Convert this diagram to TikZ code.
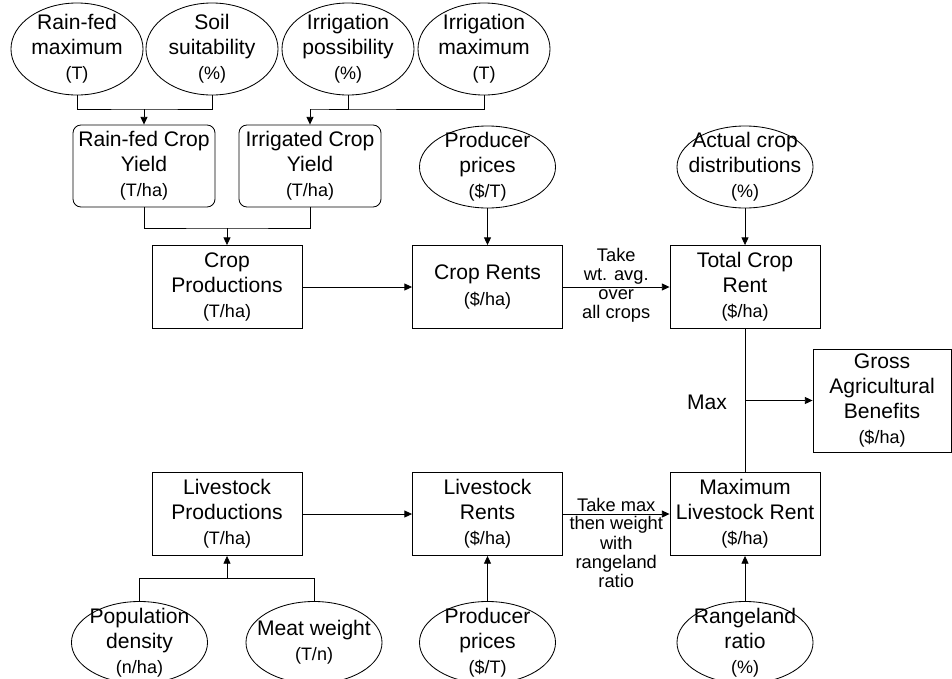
\documentclass[tikz,border=0pt]{standalone}
\usepackage{fontspec}
\setmainfont{Liberation Sans}
\usepackage{tikz}
\usetikzlibrary{shapes.geometric, arrows.meta}
\newcommand{\un}[1]{{\fontsize{12.8}{15}\selectfont #1}}

\begin{document}
\begin{tikzpicture}[
  x=0.025cm, y=-0.025cm,
  line width=0.6pt,
  proc/.style={draw, minimum width=3.75cm, minimum height=2.075cm,
               align=center, inner xsep=2pt, font=\fontsize{15}{17.8}\selectfont},
  yld/.style={proc, rounded corners=0.2cm, minimum width=3.55cm, minimum height=2.05cm},
  inp/.style={draw, ellipse, minimum width=3.4cm, minimum height=2.05cm,
              inner sep=-12pt, align=center, font=\fontsize{15}{17.8}\selectfont},
  tinp/.style={inp, minimum width=3.3cm, minimum height=2.3cm},
  ann/.style={align=center, inner sep=1.5pt, font=\fontsize{13}{13.7}\selectfont},
  arr/.style={-{Triangle[length=5.5pt, width=5pt]}},
]
  \clip (0,0) rectangle (952,678);

  % Inputs for crop yields
  \node[tinp] (rfm) at (77,49)  {Rain-fed\\maximum\\\un{(T)}};
  \node[tinp] (soil) at (212,49) {Soil\\suitability\\\un{(\%)}};
  \node[tinp] (irp) at (348,49) {Irrigation\\possibility\\\un{(\%)}};
  \node[tinp] (irm) at (484,49) {Irrigation\\maximum\\\un{(T)}};

  % Yields
  \node[yld] (rfy) at (144,166) {Rain-fed Crop\\Yield\\\un{(T/ha)}};
  \node[yld] (iry) at (310,166) {Irrigated Crop\\Yield\\\un{(T/ha)}};

  % Crop chain
  \node[inp] (pp1) at (487.5,167) {Producer\\prices\\\un{(\$/T)}};
  \node[inp] (acd) at (745,167) {Actual crop\\distributions\\\un{(\%)}};
  \node[proc] (cp) at (227,287) {Crop\\Productions\\\un{(T/ha)}};
  \node[proc] (cr) at (487.5,287) {Crop Rents\\\un{(\$/ha)}};
  \node[proc] (tcr) at (745,287) {Total Crop\\Rent\\\un{(\$/ha)}};

  % Output
  \node[proc, minimum width=3.45cm, minimum height=2.275cm] (gab) at (882,400.5)
    {Gross\\Agricultural\\Benefits\\\un{(\$/ha)}};
  \node[font=\fontsize{15}{17.8}\selectfont] (maxl) at (707,402) {Max};

  % Livestock chain
  \node[proc] (lp) at (227,514) {Livestock\\Productions\\\un{(T/ha)}};
  \node[proc] (lr) at (487.5,514) {Livestock\\Rents\\\un{(\$/ha)}};
  \node[proc] (mlr) at (745,514) {Maximum\\Livestock Rent\\\un{(\$/ha)}};

  % Inputs for livestock
  \node[inp] (pd) at (139.5,642.5) {Population\\density\\\un{(n/ha)}};
  \node[inp] (mw) at (314,642.5) {Meat weight\\\un{(T/n)}};
  \node[inp] (pp2) at (487.5,642.5) {Producer\\prices\\\un{(\$/T)}};
  \node[inp] (rr) at (745,642.5) {Rangeland\\ratio\\\un{(\%)}};

  % Junctions
  \coordinate (j1) at (rfy.north |- 0,109);
  \coordinate (j2) at (iry.north |- 0,109);
  \coordinate (j3) at (cp.north |- 0,228);
  \coordinate (j4) at (lp.south |- 0,578);
  \coordinate (mx) at (tcr.south |- gab.west);

  \draw (rfm.south) |- (j1) -| (soil.south);
  \draw[arr] (j1) -- (rfy.north);
  \draw (irp.south) |- (j2) -| (irm.south);
  \draw[arr] (j2) -- (iry.north);
  \draw (rfy.south) |- (j3) -| (iry.south);
  \draw[arr] (j3) -- (cp.north);

  \draw[arr] (pp1) -- (cr);
  \draw[arr] (acd) -- (tcr);
  \draw[arr] (cp) -- (cr);
  \draw[arr] (cr) -- node[above, ann] {Take\\wt. avg.}
                     node[below, ann] {over\\all crops} (tcr);

  \draw (tcr.south) -- (mlr.north);
  \draw[arr] (mx) -- (gab.west);

  \draw[arr] (lp) -- (lr);
  \draw[arr] (lr) -- node[above, ann] {Take max}
                     node[below, ann] {then weight\\with\\rangeland\\ratio} (mlr);

  \draw (pd.north) |- (j4) -| (mw.north);
  \draw[arr] (j4) -- (lp.south);
  \draw[arr] (pp2) -- (lr);
  \draw[arr] (rr) -- (mlr);
\end{tikzpicture}
\end{document}
